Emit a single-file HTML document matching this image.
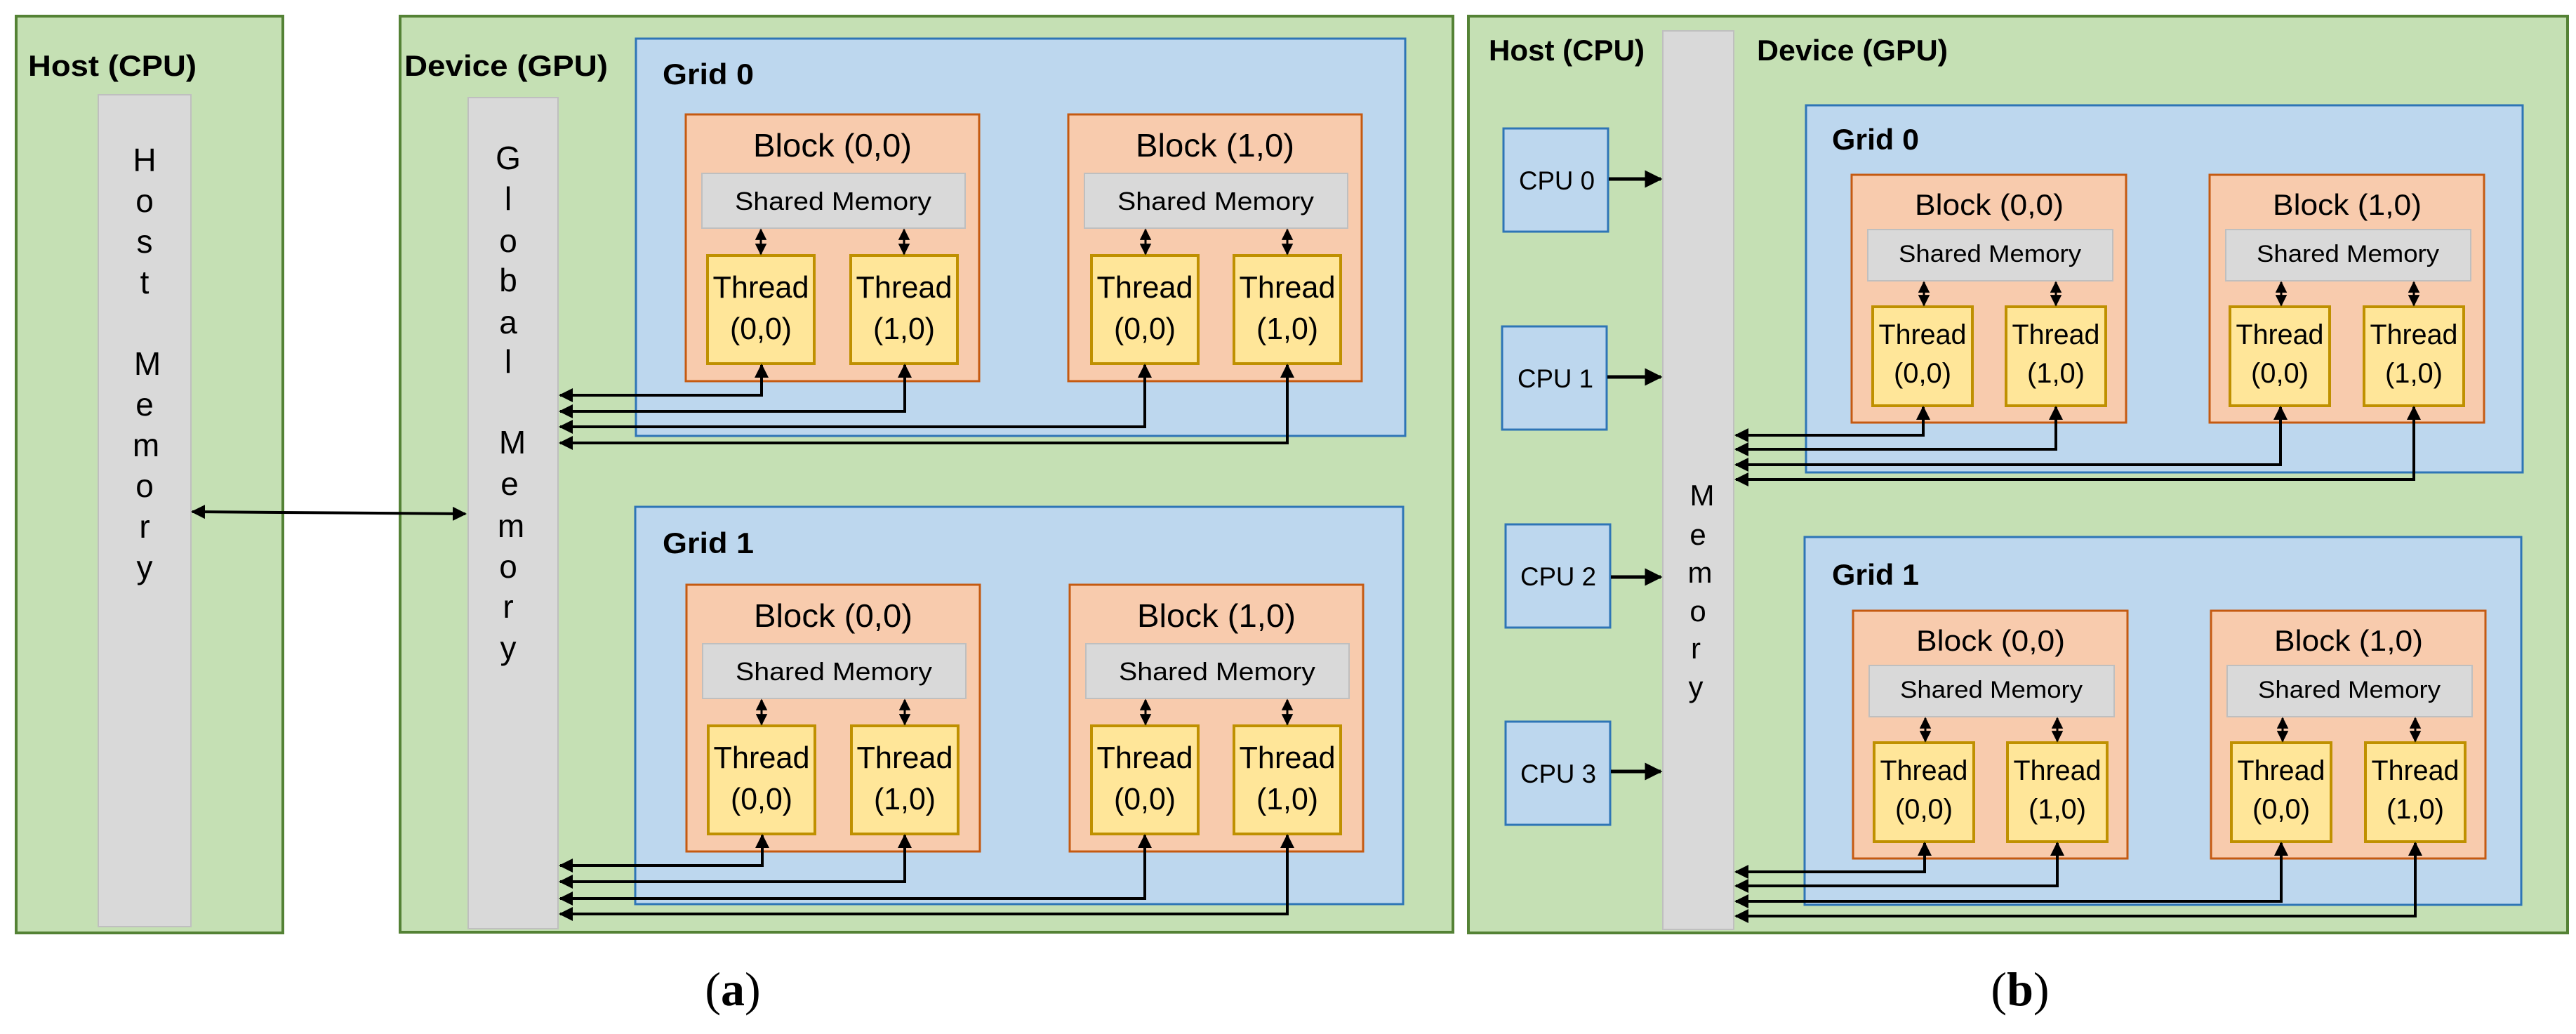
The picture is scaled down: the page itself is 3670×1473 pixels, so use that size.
<!DOCTYPE html>
<html><head><meta charset="utf-8"><style>
html,body{margin:0;padding:0;background:#fff}
svg{display:block}
text{font-family:"Liberation Sans",sans-serif;fill:#000}
.lb{font-weight:bold;font-size:42px}
.bt{font-size:46px;text-anchor:middle}
.sm{font-size:36px;text-anchor:middle}
.th{font-size:44px;text-anchor:middle}
.bt2{font-size:42px;text-anchor:middle}
.sm2{font-size:34px;text-anchor:middle}
.th2{font-size:40px;text-anchor:middle}
.ml{font-size:46px;text-anchor:middle}
.blk{fill:#f8cbad;stroke:#c55a11;stroke-width:3}
.shm{fill:#d9d9d9;stroke:#bfbfbf;stroke-width:2}
.thr{fill:#ffe699;stroke:#bf9000;stroke-width:4}
.grd{fill:#bdd7ee;stroke:#2e75b6;stroke-width:3}
.ln{fill:none;stroke:#000;stroke-width:5}
.da{stroke:#000;stroke-width:3;marker-start:url(#sa);marker-end:url(#sa)}
.cn{fill:none;stroke:#000;stroke-width:4;marker-start:url(#ar);marker-end:url(#ar)}
</style></head><body>
<svg width="3670" height="1473" viewBox="0 0 3670 1473" xmlns="http://www.w3.org/2000/svg">
<defs>
<marker id="ar" viewBox="0 0 10 10" refX="9" refY="5" markerWidth="5" markerHeight="5" orient="auto-start-reverse" markerUnits="strokeWidth"><path d="M0,0 L10,5 L0,10 z" fill="#000"/></marker>
<marker id="sa" viewBox="0 0 10 10" refX="9" refY="5" markerWidth="5.5" markerHeight="5.5" orient="auto-start-reverse" markerUnits="strokeWidth"><path d="M0,0 L10,5 L0,10 z" fill="#000"/></marker>
</defs>

<!-- ================= PANEL A ================= -->
<rect x="23" y="23" width="380" height="1306" fill="#c5e0b4" stroke="#548235" stroke-width="4"/>
<text x="40" y="108" class="lb" textLength="240" lengthAdjust="spacingAndGlyphs">Host (CPU)</text>
<rect x="140" y="135" width="132" height="1185" fill="#d9d9d9" stroke="#bfbfbf" stroke-width="2"/>
<g class="ml">
<text x="206" y="244">H</text><text x="206" y="302">o</text><text x="206" y="360">s</text><text x="206" y="418">t</text>
<text x="210" y="534">M</text><text x="206" y="592">e</text><text x="208" y="650">m</text><text x="206" y="708">o</text><text x="206" y="766">r</text><text x="206" y="824">y</text>
</g>

<rect x="570" y="23" width="1500" height="1305" fill="#c5e0b4" stroke="#548235" stroke-width="4"/>
<text x="576" y="108" class="lb" textLength="290" lengthAdjust="spacingAndGlyphs">Device (GPU)</text>
<rect x="667" y="139" width="128" height="1184" fill="#d9d9d9" stroke="#bfbfbf" stroke-width="2"/>
<g class="ml">
<text x="724" y="241">G</text><text x="724" y="299">l</text><text x="724" y="359">o</text><text x="724" y="415">b</text><text x="724" y="475">a</text><text x="724" y="531">l</text>
<text x="730" y="646">M</text><text x="726" y="705">e</text><text x="728" y="765">m</text><text x="724" y="823">o</text><text x="724" y="880">r</text><text x="724" y="939">y</text>
</g>
<path d="M274,729 L663,732" class="cn"/>

<rect x="906" y="55" width="1096" height="566" class="grd"/>
<text x="944" y="120" class="lb" textLength="130" lengthAdjust="spacingAndGlyphs">Grid 0</text>
<rect x="905" y="722" width="1094" height="566" class="grd"/>
<text x="944" y="788" class="lb" textLength="130" lengthAdjust="spacingAndGlyphs">Grid 1</text>

<g transform="translate(977,163)">
<rect width="418" height="380" class="blk"/>
<text x="209" y="60" class="bt" textLength="226" lengthAdjust="spacingAndGlyphs">Block (0,0)</text>
<rect x="23" y="84" width="375" height="78" class="shm"/>
<text x="210" y="136" class="sm" textLength="280" lengthAdjust="spacingAndGlyphs">Shared Memory</text>
<rect x="31" y="201" width="152" height="154" class="thr"/>
<text x="107" y="261" class="th" textLength="137" lengthAdjust="spacingAndGlyphs">Thread</text>
<text x="107" y="320" class="th" textLength="88" lengthAdjust="spacingAndGlyphs">(0,0)</text>
<rect x="235" y="201" width="152" height="154" class="thr"/>
<text x="311" y="261" class="th" textLength="137" lengthAdjust="spacingAndGlyphs">Thread</text>
<text x="311" y="320" class="th" textLength="88" lengthAdjust="spacingAndGlyphs">(1,0)</text>
<line x1="107" y1="164" x2="107" y2="199" class="da"/>
<line x1="311" y1="164" x2="311" y2="199" class="da"/>
</g>
<g transform="translate(1522,163)">
<rect width="418" height="380" class="blk"/>
<text x="209" y="60" class="bt" textLength="226" lengthAdjust="spacingAndGlyphs">Block (1,0)</text>
<rect x="23" y="84" width="375" height="78" class="shm"/>
<text x="210" y="136" class="sm" textLength="280" lengthAdjust="spacingAndGlyphs">Shared Memory</text>
<rect x="33" y="201" width="152" height="154" class="thr"/>
<text x="109" y="261" class="th" textLength="137" lengthAdjust="spacingAndGlyphs">Thread</text>
<text x="109" y="320" class="th" textLength="88" lengthAdjust="spacingAndGlyphs">(0,0)</text>
<rect x="236" y="201" width="152" height="154" class="thr"/>
<text x="312" y="261" class="th" textLength="137" lengthAdjust="spacingAndGlyphs">Thread</text>
<text x="312" y="320" class="th" textLength="88" lengthAdjust="spacingAndGlyphs">(1,0)</text>
<line x1="110" y1="164" x2="110" y2="199" class="da"/>
<line x1="312" y1="164" x2="312" y2="199" class="da"/>
</g>
<g transform="translate(978,833)">
<rect width="418" height="380" class="blk"/>
<text x="209" y="60" class="bt" textLength="226" lengthAdjust="spacingAndGlyphs">Block (0,0)</text>
<rect x="23" y="84" width="375" height="78" class="shm"/>
<text x="210" y="136" class="sm" textLength="280" lengthAdjust="spacingAndGlyphs">Shared Memory</text>
<rect x="31" y="201" width="152" height="154" class="thr"/>
<text x="107" y="261" class="th" textLength="137" lengthAdjust="spacingAndGlyphs">Thread</text>
<text x="107" y="320" class="th" textLength="88" lengthAdjust="spacingAndGlyphs">(0,0)</text>
<rect x="235" y="201" width="152" height="154" class="thr"/>
<text x="311" y="261" class="th" textLength="137" lengthAdjust="spacingAndGlyphs">Thread</text>
<text x="311" y="320" class="th" textLength="88" lengthAdjust="spacingAndGlyphs">(1,0)</text>
<line x1="107" y1="164" x2="107" y2="199" class="da"/>
<line x1="311" y1="164" x2="311" y2="199" class="da"/>
</g>
<g transform="translate(1524,833)">
<rect width="418" height="380" class="blk"/>
<text x="209" y="60" class="bt" textLength="226" lengthAdjust="spacingAndGlyphs">Block (1,0)</text>
<rect x="23" y="84" width="375" height="78" class="shm"/>
<text x="210" y="136" class="sm" textLength="280" lengthAdjust="spacingAndGlyphs">Shared Memory</text>
<rect x="31" y="201" width="152" height="154" class="thr"/>
<text x="107" y="261" class="th" textLength="137" lengthAdjust="spacingAndGlyphs">Thread</text>
<text x="107" y="320" class="th" textLength="88" lengthAdjust="spacingAndGlyphs">(0,0)</text>
<rect x="234" y="201" width="152" height="154" class="thr"/>
<text x="310" y="261" class="th" textLength="137" lengthAdjust="spacingAndGlyphs">Thread</text>
<text x="310" y="320" class="th" textLength="88" lengthAdjust="spacingAndGlyphs">(1,0)</text>
<line x1="108" y1="164" x2="108" y2="199" class="da"/>
<line x1="310" y1="164" x2="310" y2="199" class="da"/>
</g>
<path d="M1085,520 V563 H798" class="cn"/>
<path d="M1289,520 V586 H798" class="cn"/>
<path d="M1631,520 V608 H798" class="cn"/>
<path d="M1834,520 V631 H798" class="cn"/>
<path d="M1086,1190 V1233 H798" class="cn"/>
<path d="M1289,1190 V1256 H798" class="cn"/>
<path d="M1631,1190 V1280 H798" class="cn"/>
<path d="M1834,1190 V1302 H798" class="cn"/>

<text x="1044" y="1432" style="font-family:'Liberation Serif',serif;font-size:68px;text-anchor:middle">(<tspan font-weight="bold">a</tspan>)</text>

<!-- ================= PANEL B ================= -->
<rect x="2092" y="23" width="1566" height="1306" fill="#c5e0b4" stroke="#548235" stroke-width="4"/>
<text x="2121" y="86" class="lb" textLength="222" lengthAdjust="spacingAndGlyphs">Host (CPU)</text>
<text x="2503" y="86" class="lb" textLength="272" lengthAdjust="spacingAndGlyphs">Device (GPU)</text>
<rect x="2369" y="44" width="101" height="1280" fill="#d9d9d9" stroke="#bfbfbf" stroke-width="2"/>
<g class="ml" style="font-size:42px">
<text x="2425" y="720">M</text><text x="2419" y="776">e</text><text x="2422" y="830">m</text><text x="2419" y="885">o</text><text x="2416" y="938">r</text><text x="2416" y="993">y</text>
</g>
<g style="font-size:37px">
<rect x="2142" y="183" width="149" height="147" fill="#bdd7ee" stroke="#2e75b6" stroke-width="3"/>
<text x="2218" y="270" style="text-anchor:middle" textLength="108" lengthAdjust="spacingAndGlyphs">CPU 0</text>
<rect x="2140" y="465" width="149" height="147" fill="#bdd7ee" stroke="#2e75b6" stroke-width="3"/>
<text x="2216" y="552" style="text-anchor:middle" textLength="108" lengthAdjust="spacingAndGlyphs">CPU 1</text>
<rect x="2145" y="747" width="149" height="147" fill="#bdd7ee" stroke="#2e75b6" stroke-width="3"/>
<text x="2220" y="834" style="text-anchor:middle" textLength="108" lengthAdjust="spacingAndGlyphs">CPU 2</text>
<rect x="2145" y="1028" width="149" height="147" fill="#bdd7ee" stroke="#2e75b6" stroke-width="3"/>
<text x="2220" y="1115" style="text-anchor:middle" textLength="108" lengthAdjust="spacingAndGlyphs">CPU 3</text>
</g>
<line x1="2292" y1="255" x2="2366" y2="255" class="ln" style="marker-end:url(#ar)"/>
<line x1="2290" y1="537" x2="2366" y2="537" class="ln" style="marker-end:url(#ar)"/>
<line x1="2295" y1="822" x2="2366" y2="822" class="ln" style="marker-end:url(#ar)"/>
<line x1="2295" y1="1099" x2="2366" y2="1099" class="ln" style="marker-end:url(#ar)"/>

<rect x="2573" y="150" width="1021" height="523" class="grd"/>
<text x="2610" y="213" class="lb" textLength="124" lengthAdjust="spacingAndGlyphs">Grid 0</text>
<rect x="2571" y="765" width="1021" height="524" class="grd"/>
<text x="2610" y="833" class="lb" textLength="124" lengthAdjust="spacingAndGlyphs">Grid 1</text>

<g transform="translate(2638,249)">
<rect width="391" height="353" class="blk"/>
<text x="196" y="57" class="bt2" textLength="212" lengthAdjust="spacingAndGlyphs">Block (0,0)</text>
<rect x="23" y="78" width="349" height="73" class="shm"/>
<text x="197" y="124" class="sm2" textLength="260" lengthAdjust="spacingAndGlyphs">Shared Memory</text>
<rect x="30" y="188" width="142" height="141" class="thr"/>
<text x="101" y="241" class="th2" textLength="125" lengthAdjust="spacingAndGlyphs">Thread</text>
<text x="101" y="296" class="th2" textLength="82" lengthAdjust="spacingAndGlyphs">(0,0)</text>
<rect x="220" y="188" width="142" height="141" class="thr"/>
<text x="291" y="241" class="th2" textLength="125" lengthAdjust="spacingAndGlyphs">Thread</text>
<text x="291" y="296" class="th2" textLength="82" lengthAdjust="spacingAndGlyphs">(1,0)</text>
<line x1="103" y1="153" x2="103" y2="186" class="da"/>
<line x1="291" y1="153" x2="291" y2="186" class="da"/>
</g>
<g transform="translate(3148,249)">
<rect width="391" height="353" class="blk"/>
<text x="196" y="57" class="bt2" textLength="212" lengthAdjust="spacingAndGlyphs">Block (1,0)</text>
<rect x="23" y="78" width="349" height="73" class="shm"/>
<text x="197" y="124" class="sm2" textLength="260" lengthAdjust="spacingAndGlyphs">Shared Memory</text>
<rect x="29" y="188" width="142" height="141" class="thr"/>
<text x="100" y="241" class="th2" textLength="125" lengthAdjust="spacingAndGlyphs">Thread</text>
<text x="100" y="296" class="th2" textLength="82" lengthAdjust="spacingAndGlyphs">(0,0)</text>
<rect x="220" y="188" width="142" height="141" class="thr"/>
<text x="291" y="241" class="th2" textLength="125" lengthAdjust="spacingAndGlyphs">Thread</text>
<text x="291" y="296" class="th2" textLength="82" lengthAdjust="spacingAndGlyphs">(1,0)</text>
<line x1="102" y1="153" x2="102" y2="186" class="da"/>
<line x1="291" y1="153" x2="291" y2="186" class="da"/>
</g>
<g transform="translate(2640,870)">
<rect width="391" height="353" class="blk"/>
<text x="196" y="57" class="bt2" textLength="212" lengthAdjust="spacingAndGlyphs">Block (0,0)</text>
<rect x="23" y="78" width="349" height="73" class="shm"/>
<text x="197" y="124" class="sm2" textLength="260" lengthAdjust="spacingAndGlyphs">Shared Memory</text>
<rect x="30" y="188" width="142" height="141" class="thr"/>
<text x="101" y="241" class="th2" textLength="125" lengthAdjust="spacingAndGlyphs">Thread</text>
<text x="101" y="296" class="th2" textLength="82" lengthAdjust="spacingAndGlyphs">(0,0)</text>
<rect x="220" y="188" width="142" height="141" class="thr"/>
<text x="291" y="241" class="th2" textLength="125" lengthAdjust="spacingAndGlyphs">Thread</text>
<text x="291" y="296" class="th2" textLength="82" lengthAdjust="spacingAndGlyphs">(1,0)</text>
<line x1="103" y1="153" x2="103" y2="186" class="da"/>
<line x1="291" y1="153" x2="291" y2="186" class="da"/>
</g>
<g transform="translate(3150,870)">
<rect width="391" height="353" class="blk"/>
<text x="196" y="57" class="bt2" textLength="212" lengthAdjust="spacingAndGlyphs">Block (1,0)</text>
<rect x="23" y="78" width="349" height="73" class="shm"/>
<text x="197" y="124" class="sm2" textLength="260" lengthAdjust="spacingAndGlyphs">Shared Memory</text>
<rect x="29" y="188" width="142" height="141" class="thr"/>
<text x="100" y="241" class="th2" textLength="125" lengthAdjust="spacingAndGlyphs">Thread</text>
<text x="100" y="296" class="th2" textLength="82" lengthAdjust="spacingAndGlyphs">(0,0)</text>
<rect x="220" y="188" width="142" height="141" class="thr"/>
<text x="291" y="241" class="th2" textLength="125" lengthAdjust="spacingAndGlyphs">Thread</text>
<text x="291" y="296" class="th2" textLength="82" lengthAdjust="spacingAndGlyphs">(1,0)</text>
<line x1="102" y1="153" x2="102" y2="186" class="da"/>
<line x1="291" y1="153" x2="291" y2="186" class="da"/>
</g>
<path d="M2740,580 V620 H2473" class="cn"/>
<path d="M2929,580 V640 H2473" class="cn"/>
<path d="M3249,580 V662 H2473" class="cn"/>
<path d="M3439,580 V683 H2473" class="cn"/>
<path d="M2742,1201 V1242 H2473" class="cn"/>
<path d="M2931,1201 V1262 H2473" class="cn"/>
<path d="M3250,1201 V1284 H2473" class="cn"/>
<path d="M3441,1201 V1305 H2473" class="cn"/>

<text x="2878" y="1432" style="font-family:'Liberation Serif',serif;font-size:68px;text-anchor:middle">(<tspan font-weight="bold">b</tspan>)</text>
</svg>
</body></html>
